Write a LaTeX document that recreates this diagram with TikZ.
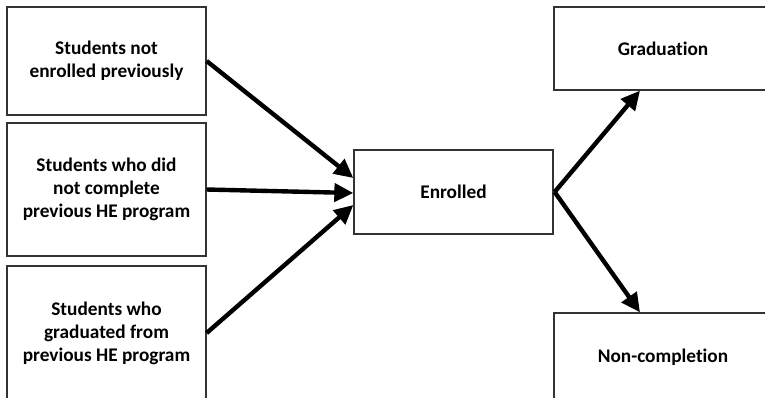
\documentclass[tikz,border=0pt]{standalone}
\usepackage{fontspec}
\setmainfont{Carlito}[Ligatures=NoCommon]
\usetikzlibrary{arrows.meta}
\begin{document}
\begin{tikzpicture}[x=1pt,y=-1pt,
  box/.style={draw=black!80, line width=1.3pt, fill=white, align=center, font=\bfseries\fontsize{19.3}{23}\selectfont, inner sep=0pt},
  flow/.style={line width=4.4pt, -{Triangle[length=19pt,width=18pt]}}]
\useasboundingbox (0,0) rectangle (765,397);
\clip (0,0) rectangle (765,397);
\node[box, minimum width=199pt, minimum height=108pt] (s1) at (106.5,61) {Students not\\enrolled previously};
\node[box, minimum width=199pt, minimum height=133pt] (s2) at (106.5,189.5) {Students who did\\not complete\\previous HE program};
\node[box, minimum width=199pt, minimum height=134pt] (s3) at (106.5,333) {Students who\\graduated from\\previous HE program};
\node[box, minimum width=199pt, minimum height=84pt] (en) at (453.5,192) {Enrolled};
\node[box, minimum width=218pt, minimum height=83pt] (gr) at (663,48.5) {Graduation};
\node[box, minimum width=218pt, minimum height=88pt] (nc) at (663,357) {Non-completion};
\coordinate (e1) at ([yshift=14pt]en.west);
\coordinate (e2) at ([yshift=-1pt]en.west);
\coordinate (e3) at ([yshift=-13pt]en.west);
\coordinate (eo) at ([xshift=1pt]en.east);
\coordinate (gt) at ([xshift=-23pt]gr.south);
\coordinate (nt) at ([xshift=-23pt]nc.north);
\draw[flow] (s1.east) -- (e1);
\draw[flow] (s2.east) -- (e2);
\draw[flow] (s3.east) -- (e3);
\draw[flow] (eo) -- (gt);
\draw[flow] (eo) -- (nt);
\end{tikzpicture}
\end{document}
